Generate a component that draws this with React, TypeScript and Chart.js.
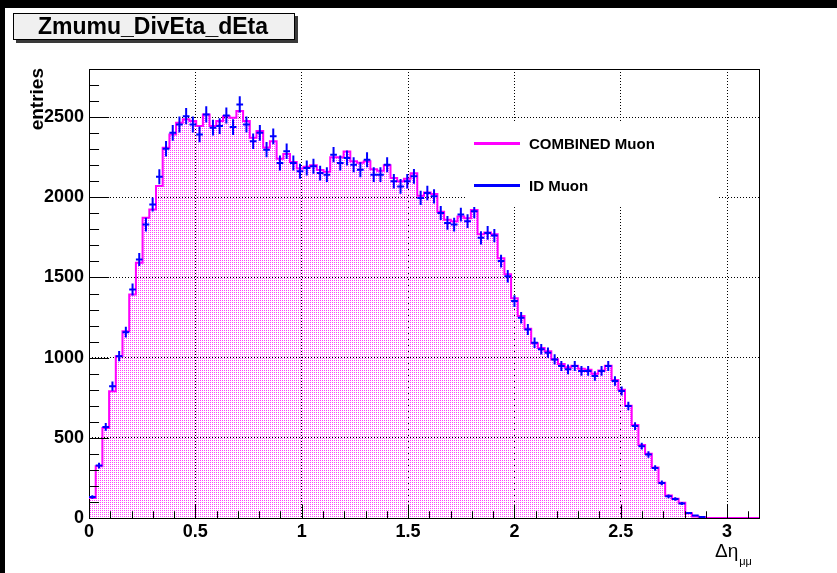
import React, { useEffect, useRef } from 'react';
import { Chart, registerables } from 'chart.js';

Chart.register(...registerables);

const TITLE = 'Zmumu_DivEta_dEta';
const Y_TITLE = 'entries';
const X_TITLE_MAIN = 'Δη';
const X_TITLE_SUB = 'μμ';
const LEGEND_LABELS = ['COMBINED Muon', 'ID Muon'];

const X_MIN = 0;
const X_MAX = 3.15;
const N_BINS = 100;
const Y_MIN = 0;
const Y_MAX = 2800;
const X_TICKS = [0, 0.5, 1, 1.5, 2, 2.5, 3];
const X_TICK_LABELS = ['0', '0.5', '1', '1.5', '2', '2.5', '3'];
const Y_TICKS = [0, 500, 1000, 1500, 2000, 2500];
const Y_TICK_LABELS = ['0', '500', '1000', '1500', '2000', '2500'];
const X_MINOR_STEP = 0.1;
const Y_MINOR_STEP = 100;

// COMBINED Muon histogram contents (100 bins)
const COMBINED = [
  125, 322, 562, 790, 1009, 1165, 1394, 1591, 1872, 1924,
  2070, 2309, 2392, 2465, 2486, 2475, 2444, 2517, 2444, 2475,
  2506, 2496, 2538, 2475, 2371, 2413, 2310, 2350, 2240, 2270,
  2220, 2180, 2190, 2200, 2170, 2160, 2250, 2250, 2285, 2225,
  2215, 2225, 2175, 2165, 2200, 2120, 2100, 2115, 2150, 2010,
  2030, 2020, 1910, 1860, 1850, 1880, 1870, 1920, 1770, 1780,
  1770, 1620, 1520, 1370, 1260, 1180, 1090, 1060, 1040, 990,
  960, 940, 950, 930, 925, 900, 920, 950, 860, 800,
  700, 580, 455, 400, 315, 220, 140, 120, 95, 30,
  10, 5, 0, 0, 0, 0, 0, 0, 0, 0,
];

// ID Muon histogram contents (100 bins)
const ID_MUON = [
  131, 327, 568, 822, 1009, 1159, 1425, 1612, 1830, 1955,
  2128, 2303, 2402, 2454, 2506, 2454, 2392, 2517, 2434, 2444,
  2510, 2438, 2579, 2454, 2350, 2402, 2297, 2380, 2214, 2287,
  2214, 2162, 2183, 2193, 2151, 2141, 2266, 2214, 2245, 2203,
  2172, 2234, 2141, 2141, 2203, 2100, 2068, 2100, 2131, 1996,
  2027, 2006, 1902, 1840, 1830, 1892, 1851, 1913, 1747, 1778,
  1761, 1602, 1508, 1353, 1249, 1176, 1093, 1052, 1031, 989,
  948, 927, 948, 917, 917, 886, 917, 948, 854, 792,
  698, 573, 448, 396, 312, 219, 135, 119, 90, 31,
  15, 6, 0, 0, 0, 0, 0, 0, 0, 0,
];

const FONT = "'Liberation Sans', Arial, Helvetica, sans-serif";
const MAGENTA = '#ff00ff';
const BLUE = '#0000ff';

const binWidth = (X_MAX - X_MIN) / N_BINS;
const edge = (i: number) => X_MIN + i * binWidth;

function makePattern(): CanvasPattern | string {
  const c = document.createElement('canvas');
  c.width = 2;
  c.height = 2;
  const g = c.getContext('2d');
  if (!g) return 'rgba(255,0,255,0.2)';
  g.fillStyle = '#ff40ff';
  g.fillRect(0, 0, 1, 1);
  return g.createPattern(c, 'repeat') || 'rgba(255,0,255,0.2)';
}

const rootPlugin = {
  id: 'rootStyle',
  beforeDraw(chart: any) {
    const ctx = chart.ctx as CanvasRenderingContext2D;
    const W = chart.width;
    const H = chart.height;
    ctx.save();
    ctx.fillStyle = '#ffffff';
    ctx.fillRect(0, 0, W, H);
    ctx.fillStyle = '#000000';
    ctx.fillRect(0, 0, W, 8);
    ctx.fillRect(0, 0, 5, H);
    // title box with shadow
    ctx.fillStyle = '#3a3a3a';
    ctx.fillRect(16, 16, 282, 27);
    ctx.fillStyle = '#f0f0f0';
    ctx.fillRect(13, 13, 282, 27);
    ctx.strokeStyle = '#000000';
    ctx.lineWidth = 1;
    ctx.strokeRect(13.5, 13.5, 281, 26);
    ctx.fillStyle = '#000000';
    ctx.font = `bold 23px ${FONT}`;
    ctx.textAlign = 'center';
    ctx.textBaseline = 'alphabetic';
    ctx.fillText(TITLE, 153, 34);
    ctx.restore();
  },
  beforeDatasetsDraw(chart: any) {
    const ctx = chart.ctx as CanvasRenderingContext2D;
    const a = chart.chartArea;
    ctx.save();
    ctx.strokeStyle = '#000000';
    ctx.lineWidth = 1;
    ctx.strokeRect(Math.round(a.left) + 0.5, Math.round(a.top) + 0.5, Math.round(a.right - a.left), Math.round(a.bottom - a.top));
    ctx.restore();
  },
  afterDatasetsDraw(chart: any) {
    const ctx = chart.ctx as CanvasRenderingContext2D;
    const xs = chart.scales.x;
    const ys = chart.scales.y;
    const a = chart.chartArea;
    ctx.save();
    // error bars for ID Muon
    ctx.strokeStyle = BLUE;
    ctx.lineWidth = 2;
    ctx.beginPath();
    ID_MUON.forEach((v, i) => {
      if (v <= 0) return;
      const xl = xs.getPixelForValue(edge(i));
      const xr = xs.getPixelForValue(edge(i + 1));
      const xc = xs.getPixelForValue(edge(i) + binWidth / 2);
      const e = Math.sqrt(v);
      const yc = ys.getPixelForValue(v);
      const yt = ys.getPixelForValue(v + e);
      const yb = ys.getPixelForValue(Math.max(0, v - e));
      ctx.moveTo(xl, yc);
      ctx.lineTo(xr, yc);
      ctx.moveTo(xc, yt);
      ctx.lineTo(xc, yb);
    });
    ctx.stroke();

    // ticks (inside the frame, ROOT style)
    ctx.strokeStyle = '#000000';
    ctx.lineWidth = 1;
    ctx.beginPath();
    const yLen = 0.03 * (a.right - a.left);
    for (let k = 0; Y_MIN + k * Y_MINOR_STEP <= Y_MAX - 1e-9; k++) {
      const v = Y_MIN + k * Y_MINOR_STEP;
      const py = Math.round(ys.getPixelForValue(v)) + 0.5;
      const major = Y_TICKS.indexOf(v) >= 0;
      const len = major ? yLen : yLen / 2;
      ctx.moveTo(a.left, py);
      ctx.lineTo(a.left + len, py);
    }
    const xLen = 0.03 * (a.bottom - a.top);
    for (let k = 0; X_MIN + k * X_MINOR_STEP <= X_MAX + 1e-9; k++) {
      const v = X_MIN + k * X_MINOR_STEP;
      const px = Math.round(xs.getPixelForValue(v)) + 0.5;
      const major = k % 5 === 0;
      const len = major ? xLen : xLen / 2;
      ctx.moveTo(px, a.bottom);
      ctx.lineTo(px, a.bottom - len);
    }
    ctx.stroke();

    // legend
    const lx0 = 466, ly0 = 122, lx1 = 718, ly1 = 207;
    ctx.fillStyle = '#ffffff';
    ctx.fillRect(lx0, ly0, lx1 - lx0, ly1 - ly0);
    ctx.lineWidth = 3;
    ctx.strokeStyle = MAGENTA;
    ctx.beginPath();
    ctx.moveTo(474, 143.5);
    ctx.lineTo(520, 143.5);
    ctx.stroke();
    ctx.strokeStyle = BLUE;
    ctx.beginPath();
    ctx.moveTo(474, 185.5);
    ctx.lineTo(520, 185.5);
    ctx.stroke();
    ctx.fillStyle = '#000000';
    ctx.font = `bold 15px ${FONT}`;
    ctx.textAlign = 'left';
    ctx.textBaseline = 'alphabetic';
    ctx.fillText(LEGEND_LABELS[0], 529, 149);
    ctx.fillText(LEGEND_LABELS[1], 529, 191);

    // y title
    ctx.save();
    ctx.translate(38, a.top - 1);
    ctx.rotate(-Math.PI / 2);
    ctx.font = `bold 19px ${FONT}`;
    ctx.textAlign = 'right';
    ctx.textBaseline = 'middle';
    ctx.fillText(Y_TITLE, 0, 0);
    ctx.restore();

    // x title
    ctx.font = `19px ${FONT}`;
    ctx.textAlign = 'left';
    ctx.textBaseline = 'alphabetic';
    ctx.fillText(X_TITLE_MAIN, 715, 557);
    const w = ctx.measureText(X_TITLE_MAIN).width;
    ctx.font = `11px ${FONT}`;
    ctx.fillText(X_TITLE_SUB, 715 + w + 1, 565);
    ctx.restore();
  },
};

export default function App() {
  const ref = useRef<HTMLCanvasElement | null>(null);

  useEffect(() => {
    const canvas = ref.current;
    if (!canvas) return;
    const pattern = makePattern();
    const combinedData = COMBINED.map((v, i) => ({ x: edge(i), y: v }));
    combinedData.push({ x: edge(N_BINS), y: COMBINED[N_BINS - 1] });
    const idData = ID_MUON.map((v, i) => ({ x: edge(i) + binWidth / 2, y: v }));

    const chart = new Chart(canvas, {
      type: 'line',
      data: {
        datasets: [
          {
            label: LEGEND_LABELS[0],
            data: combinedData,
            stepped: 'before',
            borderColor: MAGENTA,
            borderWidth: 2,
            backgroundColor: pattern as any,
            fill: 'origin',
            pointRadius: 0,
            tension: 0,
          },
          {
            label: LEGEND_LABELS[1],
            data: idData,
            showLine: false,
            borderColor: BLUE,
            backgroundColor: BLUE,
            pointRadius: 0,
            fill: false,
          },
        ],
      },
      options: {
        responsive: false,
        animation: false,
        devicePixelRatio: 1,
        events: [],
        layout: { padding: { left: 0, top: 69, right: 78, bottom: 0 } },
        plugins: {
          legend: { display: false },
          tooltip: { enabled: false },
          title: { display: false },
        },
        scales: {
          x: {
            type: 'linear',
            min: X_MIN,
            max: X_MAX,
            afterFit: (s: any) => {
              s.height = 55;
            },
            afterBuildTicks: (s: any) => {
              s.ticks = X_TICKS.map((v) => ({ value: v }));
            },
            border: { display: false, dash: [1, 2] },
            grid: { color: '#000000', lineWidth: 1, drawTicks: false },
            ticks: {
              autoSkip: false,
              maxRotation: 0,
              padding: 3,
              color: '#000000',
              font: { family: FONT, size: 18, weight: 'bold' },
              callback: (v: any) => {
                const idx = X_TICKS.indexOf(Number(v));
                return idx >= 0 ? X_TICK_LABELS[idx] : '';
              },
            },
          },
          y: {
            type: 'linear',
            min: Y_MIN,
            max: Y_MAX,
            afterFit: (s: any) => {
              s.width = 89;
            },
            afterBuildTicks: (s: any) => {
              s.ticks = Y_TICKS.map((v) => ({ value: v }));
            },
            border: { display: false, dash: [1, 2] },
            grid: { color: '#000000', lineWidth: 1, drawTicks: false },
            ticks: {
              autoSkip: false,
              padding: 5,
              color: '#000000',
              font: { family: FONT, size: 18, weight: 'bold' },
              callback: (v: any) => {
                const idx = Y_TICKS.indexOf(Number(v));
                return idx >= 0 ? Y_TICK_LABELS[idx] : '';
              },
            },
          },
        },
      } as any,
      plugins: [rootPlugin],
    });
    return () => chart.destroy();
  }, []);

  return (
    <div style={{ position: 'fixed', left: 0, top: 0, width: 837, height: 573, background: '#ffffff' }}>
      <canvas ref={ref} width={837} height={573} style={{ display: 'block', width: 837, height: 573 }} />
    </div>
  );
}
